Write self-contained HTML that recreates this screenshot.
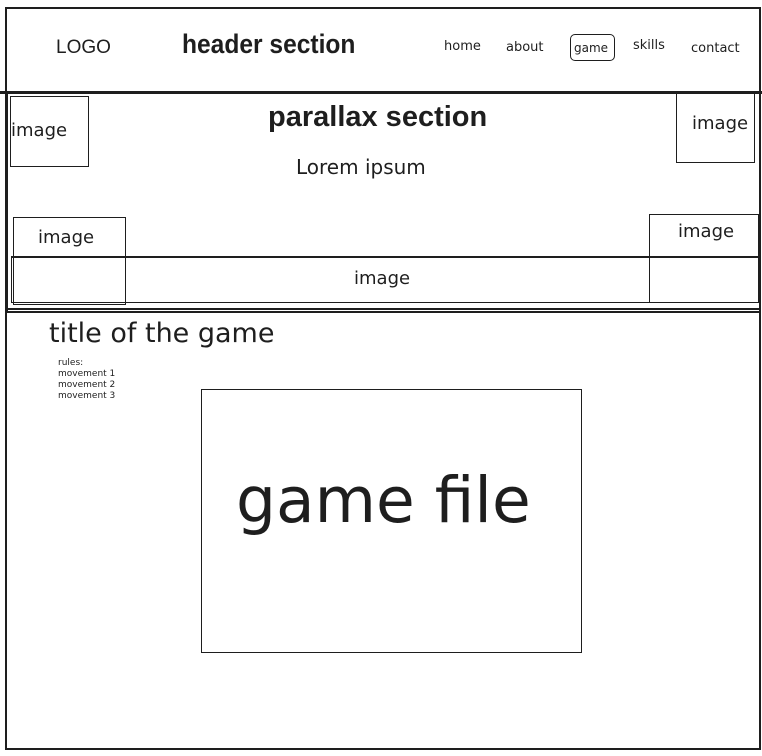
<!DOCTYPE html>
<html><head><meta charset="utf-8"><style>
html,body{margin:0;padding:0;background:#fff;}
body{width:762px;height:756px;position:relative;overflow:hidden;font-family:"Liberation Sans",sans-serif;color:#1e1e1e;}
.a{position:absolute;box-sizing:border-box;}
.t{position:absolute;white-space:nowrap;}
.h{font-family:"DejaVu Sans","Liberation Sans",sans-serif;font-weight:normal;}
</style></head><body>
<div class="a" style="left:5px;top:7px;width:756px;height:743px;border:2px solid #1e1e1e;"></div>
<div class="a" style="left:0px;top:91px;width:762px;height:3px;background:#1e1e1e;"></div>
<div class="a" style="left:5px;top:93px;width:3px;height:220px;background:#1e1e1e;"></div>
<div class="a" style="left:5px;top:308px;width:756px;height:5px;border-top:2px solid #1e1e1e;border-bottom:2px solid #1e1e1e;"></div>

<div class="t" style="left:56px;top:37px;font-size:19px;">LOGO</div>
<div class="t" style="left:182px;top:29px;font-size:27px;font-weight:bold;transform:scaleX(0.91);transform-origin:0 0;">header section</div>
<div class="t h" style="left:444px;top:39px;font-size:13px;">home</div>
<div class="t h" style="left:506px;top:40px;font-size:13px;">about</div>
<div class="a" style="left:570px;top:34px;width:45px;height:27px;border:1.5px solid #1e1e1e;border-radius:5px;"></div>
<div class="t h" style="left:574px;top:41px;font-size:12px;">game</div>
<div class="t h" style="left:633px;top:38px;font-size:13px;">skills</div>
<div class="t h" style="left:691px;top:41px;font-size:13px;">contact</div>

<div class="t" style="left:268px;top:101px;font-size:29px;font-weight:bold;">parallax section</div>
<div class="t h" style="left:296px;top:155px;font-size:20px;">Lorem ipsum</div>

<div class="a" style="left:10px;top:96px;width:79px;height:71px;border:1.5px solid #1e1e1e;"></div>
<div class="t h" style="left:11px;top:120px;font-size:18px;">image</div>
<div class="a" style="left:676px;top:92px;width:79px;height:71px;border:1.5px solid #1e1e1e;"></div>
<div class="t h" style="left:692px;top:113px;font-size:18px;">image</div>

<div class="a" style="left:13px;top:217px;width:113px;height:88px;border:1.5px solid #1e1e1e;"></div>
<div class="t h" style="left:38px;top:227px;font-size:18px;">image</div>
<div class="a" style="left:649px;top:214px;width:110px;height:89px;border:1.5px solid #1e1e1e;"></div>
<div class="t h" style="left:678px;top:221px;font-size:18px;">image</div>
<div class="a" style="left:11px;top:256px;width:749px;height:47px;border:1.5px solid #1e1e1e;border-top-width:2px;"></div>
<div class="t h" style="left:354px;top:268px;font-size:18px;">image</div>

<div class="t h" style="left:49px;top:318px;font-size:27px;">title of the game</div>
<div class="t h" style="left:58px;top:358px;font-size:9px;line-height:11px;">rules:<br>movement 1<br>movement 2<br>movement 3</div>

<div class="a" style="left:201px;top:389px;width:381px;height:264px;border:1.5px solid #1e1e1e;"></div>
<div class="t h" style="left:236px;top:464px;font-size:63px;">game file</div>
</body></html>
